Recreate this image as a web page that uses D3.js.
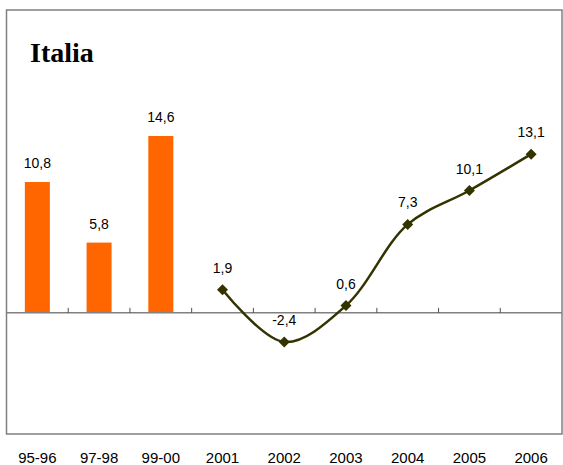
<!DOCTYPE html>
<html>
<head>
<meta charset="utf-8">
<script src="https://cdn.jsdelivr.net/npm/d3@7"></script>
<style>
  html, body { margin: 0; padding: 0; background: #fff; }
  svg { display: block; }
</style>
</head>
<body>
<svg id="chart" width="563" height="465"></svg>
<script>
// Categories along the x axis
const categories = ["95-96", "97-98", "99-00", "2001", "2002", "2003", "2004", "2005", "2006"];
// Multi-year bars (first three periods)
const barCategories = ["95-96", "97-98", "99-00"];
const barValues = [10.8, 5.8, 14.6];
// Annual line series
const lineCategories = ["2001", "2002", "2003", "2004", "2005", "2006"];
const lineValues = [1.9, -2.4, 0.6, 7.3, 10.1, 13.1];
const yDomain = [-10, 25];

const svg = d3.select("#chart");
const plotL = 6.5, plotR = 562, plotT = 10, plotB = 434;

const x = d3.scaleBand().domain(categories).range([plotL, plotR]).padding(0);
const y = d3.scaleLinear().domain(yDomain).range([plotB, plotT]);
const fmt = v => String(v).replace(".", ",");
const cx = c => x(c) + x.bandwidth() / 2;

// Plot frame
svg.append("rect")
  .attr("x", plotL).attr("y", plotT)
  .attr("width", plotR - plotL).attr("height", plotB - plotT)
  .attr("fill", "none").attr("stroke", "#808080").attr("stroke-width", 1.5);

// Title
svg.append("text")
  .attr("x", 30).attr("y", 62)
  .attr("font-family", "'Liberation Serif', 'Times New Roman', serif")
  .attr("font-weight", "bold").attr("font-size", 28)
  .attr("fill", "#000")
  .text("Italia");

// Bars
const barData = barCategories.map((c, i) => ({ c, v: barValues[i] }));
svg.selectAll("rect.bar").data(barData)
  .enter().append("rect").attr("class", "bar")
  .attr("x", d => cx(d.c) - 12.5)
  .attr("width", 25)
  .attr("y", d => y(Math.max(0, d.v)))
  .attr("height", d => Math.abs(y(d.v) - y(0)))
  .attr("fill", "#FF6600");

// Zero axis with tick marks on the category boundaries
const axisG = svg.append("g").attr("transform", `translate(0,${y(0)})`);
axisG.append("line")
  .attr("x1", plotL).attr("x2", plotR)
  .attr("stroke", "#808080").attr("stroke-width", 1.5);
axisG.selectAll("line.tick").data(categories.slice(1))
  .enter().append("line").attr("class", "tick")
  .attr("x1", d => x(d)).attr("x2", d => x(d))
  .attr("y1", 0).attr("y2", -5)
  .attr("stroke", "#505050").attr("stroke-width", 1);

// Category labels
svg.selectAll("text.cat").data(categories)
  .enter().append("text").attr("class", "cat")
  .attr("x", d => cx(d))
  .attr("y", 463)
  .attr("text-anchor", "middle")
  .attr("font-family", "'Liberation Sans', Arial, sans-serif")
  .attr("font-size", 15)
  .attr("fill", "#000")
  .text(d => d);

// Bar value labels
svg.selectAll("text.barlab").data(barData)
  .enter().append("text").attr("class", "barlab")
  .attr("x", d => cx(d.c))
  .attr("y", d => y(d.v) - 14)
  .attr("text-anchor", "middle")
  .attr("font-family", "'Liberation Sans', Arial, sans-serif")
  .attr("font-size", 14)
  .attr("fill", "#000")
  .text(d => fmt(d.v));

// Smoothed line series
const pts = lineCategories.map((c, i) => ({ c, v: lineValues[i] }));
const line = d3.line()
  .x(d => cx(d.c))
  .y(d => y(d.v))
  .curve(d3.curveCatmullRom.alpha(0.5));
svg.append("path")
  .datum(pts)
  .attr("d", line)
  .attr("fill", "none")
  .attr("stroke", "#333300")
  .attr("stroke-width", 2.5);

// Diamond markers
svg.selectAll("path.marker").data(pts)
  .enter().append("path").attr("class", "marker")
  .attr("transform", d => `translate(${cx(d.c)},${y(d.v)})`)
  .attr("d", "M0,-5.5L5.5,0L0,5.5L-5.5,0Z")
  .attr("fill", "#333300");

// Line value labels
svg.selectAll("text.linelab").data(pts)
  .enter().append("text").attr("class", "linelab")
  .attr("x", d => cx(d.c))
  .attr("y", d => y(d.v) - 17)
  .attr("text-anchor", "middle")
  .attr("font-family", "'Liberation Sans', Arial, sans-serif")
  .attr("font-size", 14)
  .attr("fill", "#000")
  .text(d => fmt(d.v));
</script>
</body>
</html>
